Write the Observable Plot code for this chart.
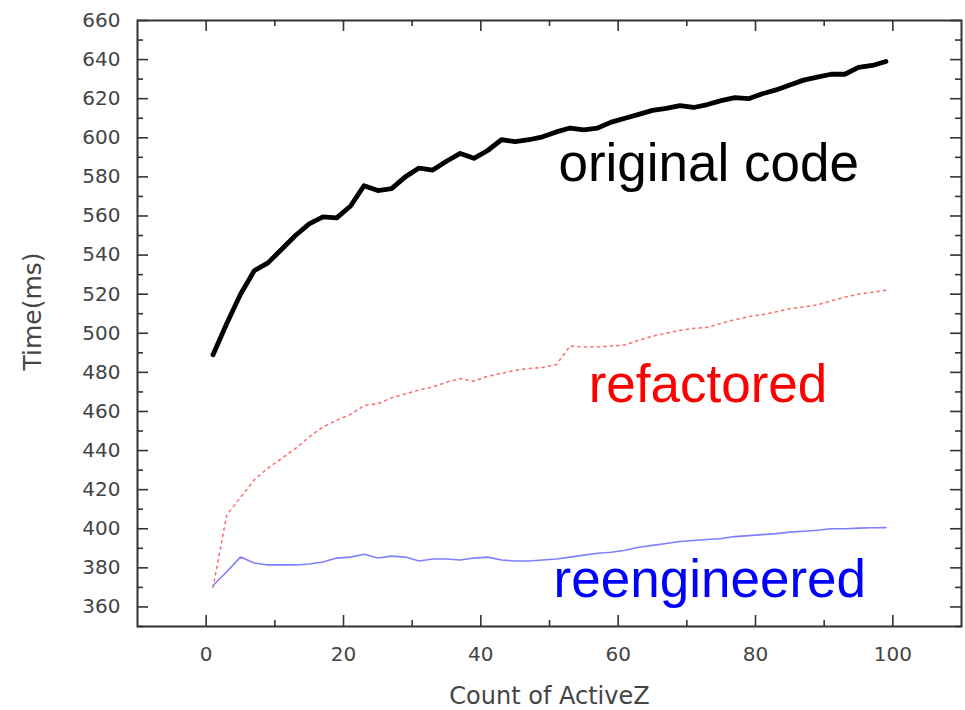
<!DOCTYPE html>
<html><head><meta charset="utf-8">
<script src="https://cdn.jsdelivr.net/npm/d3@7"></script>
<script src="https://cdn.jsdelivr.net/npm/@observablehq/plot@0.6"></script>
<style>html,body{margin:0;padding:0;background:#fff;overflow:hidden}</style>
</head><body><div id="chart"></div>
<script>
// ---- data ----
const counts = [1,3,5,7,9,11,13,15,17,19,21,23,25,27,29,31,33,35,37,39,41,43,45,47,49,
  51,53,55,57,59,61,63,65,67,69,71,73,75,77,79,81,83,85,87,89,91,93,95,97,99];
const originalCode = [489,505,520,532,536,543,550,556,559.5,559,565,575.5,573,574,580,584.5,583.5,588,592,589.5,
  593.5,599,598,599,600.5,603,605,604,605,608,610,612,614,615,616.5,615.5,617,619,620.5,620,
  622.5,624.5,627,629.5,631,632.5,632.5,636,637,639];
const refactored = [370,407,416,425,431,436,441,447,452,455.5,458.5,463,464,467,469,471,472.5,475,476.8,475.5,
  478,479.5,481,482,482.5,484,493.5,493,493,493.5,494,496.5,498.5,500,501.5,502.5,503,505,507,508.5,
  509.5,511,512.5,513.5,514.5,516.5,518.5,520,521,522];
const reengineered = [371,378,385.5,382.5,381.5,381.5,381.5,382,383,385,385.5,387,385,386,385.5,383.5,384.5,384.5,384,385,
  385.5,384,383.5,383.5,384,384.5,385.5,386.5,387.5,388,389,390.5,391.5,392.5,393.5,394,394.5,395,396,396.5,
  397,397.5,398.3,398.7,399.2,400,400,400.3,400.5,400.6];
const seriesNames = ["original code", "refactored", "reengineered"];
const yMajorTicks = [360,380,400,420,440,460,480,500,520,540,560,580,600,620,640,660];
const yMinorTicks = [350,370,390,410,430,450,470,490,510,530,550,570,590,610,630,650];
const xMajorTicks = [0,20,40,60,80,100];
const xMinorTicks = [10,30,50,70,90];
const xLabel = "Count of ActiveZ";
const yLabel = "Time(ms)";

// ---- build tables ----
const rows = (vals) => counts.map((c, i) => ({count: c, time: vals[i]}));
const orig = rows(originalCode), refac = rows(refactored), reeng = rows(reengineered);

const W = 965, H = 710;
const mL = 137, mR = 4, mT = 20, mB = 84;
const fw = W - mL - mR, fh = H - mT - mB;
const frameColor = "#333";
const majorLen = 11, minorLen = 6;
const labelFont = "Liberation Sans, Arial, sans-serif";

const chart = Plot.plot({
  width: W, height: H,
  marginLeft: mL, marginRight: mR, marginTop: mT, marginBottom: mB,
  style: {fontFamily: "DejaVu Sans, sans-serif", background: "#fff"},
  x: {domain: [-10, 110], axis: null},
  y: {domain: [350, 660], axis: null},
  marks: [
    // inward ticks on all four sides
    Plot.ruleY(yMajorTicks, {y: d => d, insetRight: fw - majorLen, stroke: frameColor, strokeWidth: 1.6}),
    Plot.ruleY(yMinorTicks, {y: d => d, insetRight: fw - minorLen, stroke: frameColor, strokeWidth: 1.6}),
    Plot.ruleY(yMajorTicks, {y: d => d, insetLeft: fw - majorLen, stroke: frameColor, strokeWidth: 1.6}),
    Plot.ruleY(yMinorTicks, {y: d => d, insetLeft: fw - minorLen, stroke: frameColor, strokeWidth: 1.6}),
    Plot.ruleX(xMajorTicks, {x: d => d, insetTop: fh - majorLen, stroke: frameColor, strokeWidth: 1.6}),
    Plot.ruleX(xMinorTicks, {x: d => d, insetTop: fh - minorLen, stroke: frameColor, strokeWidth: 1.6}),
    Plot.ruleX(xMajorTicks, {x: d => d, insetBottom: fh - majorLen, stroke: frameColor, strokeWidth: 1.6}),
    Plot.ruleX(xMinorTicks, {x: d => d, insetBottom: fh - minorLen, stroke: frameColor, strokeWidth: 1.6}),
    Plot.frame({stroke: frameColor, strokeWidth: 2}),
    // tick labels
    Plot.axisY({ticks: yMajorTicks, tickSize: 0, tickPadding: 17, fontSize: 20, fill: "#444", label: null}),
    Plot.axisX({ticks: xMajorTicks, tickSize: 0, tickPadding: 20, fontSize: 20, fill: "#444", label: null}),
    // axis titles
    Plot.text([yLabel], {frameAnchor: "left", text: d => d, textAnchor: "middle", lineAnchor: "middle", dx: -105, dy: -12, rotate: -90, fontSize: 25, fill: "#444"}),
    Plot.text([xLabel], {frameAnchor: "bottom", text: d => d, textAnchor: "middle", lineAnchor: "middle", dy: 70, fontSize: 24, fill: "#444"}),
    // series
    Plot.line(refac, {x: "count", y: "time", stroke: "#ff6e6e", strokeWidth: 1.6, strokeDasharray: "2,4.5"}),
    Plot.line(reeng, {x: "count", y: "time", stroke: "#7f7fff", strokeWidth: 1.6}),
    Plot.line(orig, {x: "count", y: "time", stroke: "#000", strokeWidth: 4.8, strokeLinejoin: "round"}),
    // series labels
    Plot.text([seriesNames[0]], {x: 51.3, y: 578, text: d => d, textAnchor: "start", lineAnchor: "bottom", fontSize: 53, fill: "#000", fontFamily: labelFont}),
    Plot.text([seriesNames[1]], {x: 55.7, y: 464.7, text: d => d, textAnchor: "start", lineAnchor: "bottom", fontSize: 53, fill: "#ff0000", fontFamily: labelFont}),
    Plot.text([seriesNames[2]], {x: 50.6, y: 365, text: d => d, textAnchor: "start", lineAnchor: "bottom", fontSize: 53, fill: "#0000ff", fontFamily: labelFont})
  ]
});
document.getElementById("chart").appendChild(chart);
</script>
</body></html>
